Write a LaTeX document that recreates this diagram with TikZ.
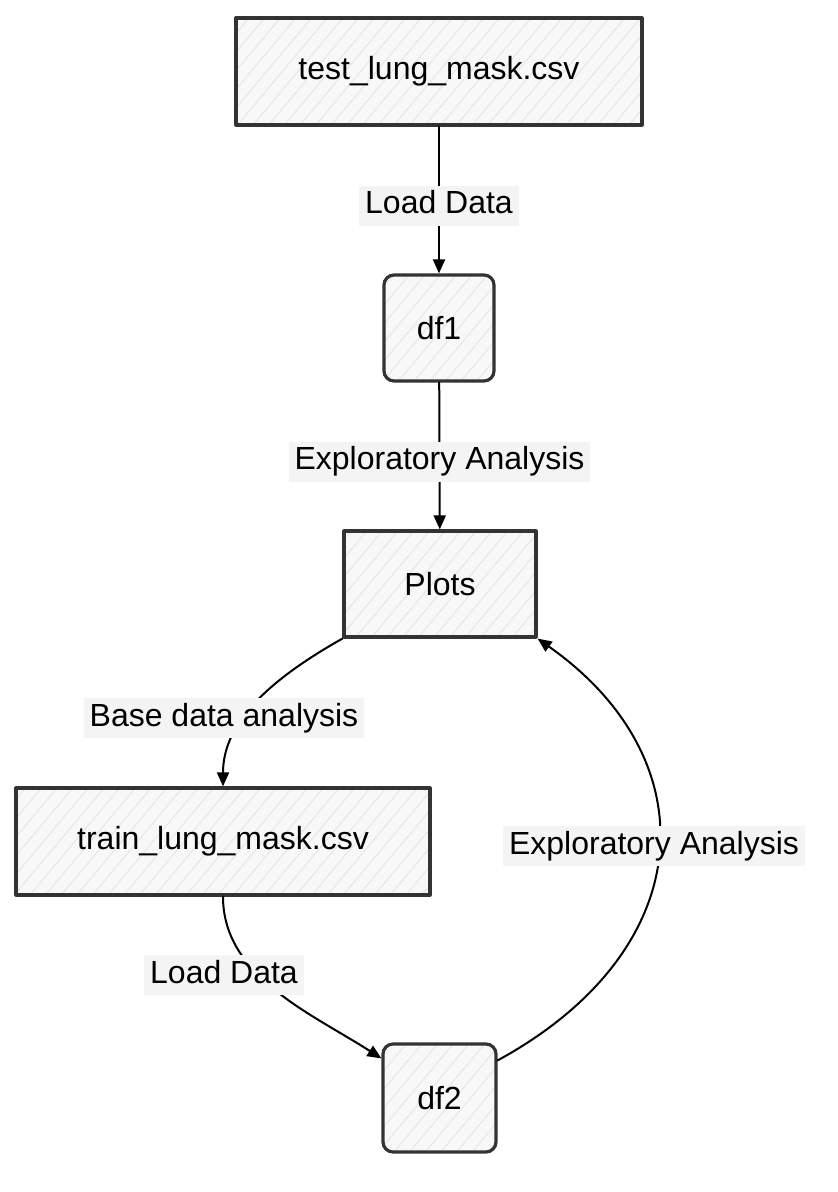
\documentclass[tikz,border=0pt]{standalone}
\usepackage{fontspec}
\setmainfont{Liberation Sans}
\definecolor{flowline}{HTML}{333333}
\definecolor{boxfill}{HTML}{F8F8F8}
\definecolor{boxhatch}{HTML}{E6E6E6}
\definecolor{labelfill}{HTML}{F4F4F4}
\usetikzlibrary{arrows.meta,patterns.meta}

\begin{document}
\begin{tikzpicture}[
  x=0.5pt,
  y=-0.5pt,
  line join=round,
  line cap=round,
  font=\fontsize{16}{19}\selectfont,
  filebox/.style={draw=flowline,line width=1.6pt,
    preaction={fill=boxfill},
    preaction={pattern={Lines[angle=50,distance=6pt,line width=0.5pt]},pattern color=boxhatch},
    minimum height=53.5pt,inner sep=0pt},
  framebox/.style={filebox,rounded corners=5pt,minimum width=55pt,minimum height=53pt},
  edgelabel/.style={fill=labelfill,inner xsep=3pt,inner ysep=2pt,text height=12pt,text depth=4pt,yshift=-1.5pt},
  flow/.style={draw=black,line width=1pt,-{Triangle[length=7pt,width=6pt]}}
]
  % Page frame in reference pixels.
  \useasboundingbox (0,0) rectangle (838,1192);

  % Files, frames and the plot step.
  \node[filebox,minimum width=203pt] (testcsv) at (439,71.5) {test\_lung\_mask.csv};
  \node[framebox] (dfone) at (439,328) {df1};
  \node[filebox,minimum width=96pt,minimum height=53pt] (plots) at (440,584) {Plots};
  \node[filebox,minimum width=207pt] (traincsv) at (223,841.5) {train\_lung\_mask.csv};
  \node[framebox,minimum width=56.5pt,minimum height=54pt] (dftwo) at (439.5,1098) {df2};

  % Straight edges on the centre line.
  \draw[flow] (testcsv) -- node[edgelabel,pos=0.52] (loadone) {Load Data} (dfone);
  \draw[flow] (dfone) -- node[edgelabel,pos=0.52] (exploreone) {Exploratory Analysis} (plots);

  % Curved edges; labels are set on top afterwards.
  \draw[flow] (plots.south west) .. controls +(-80,45) and +(0,-60) .. (traincsv.north);
  \draw[flow] (traincsv.south) .. controls +(0,80) and +(-70,-45) .. ([yshift=-8pt]dftwo.north west);
  \draw[flow] ([yshift=-9pt]dftwo.north east) .. controls (700,950) and (710,760) .. (plots.south east);

  \node[edgelabel] (baseanalysis) at (224,715) {Base data analysis};
  \node[edgelabel] (loadtwo) at (224,972) {Load Data};
  \node[edgelabel] (exploretwo) at (654,843) {Exploratory Analysis};
\end{tikzpicture}
\end{document}
